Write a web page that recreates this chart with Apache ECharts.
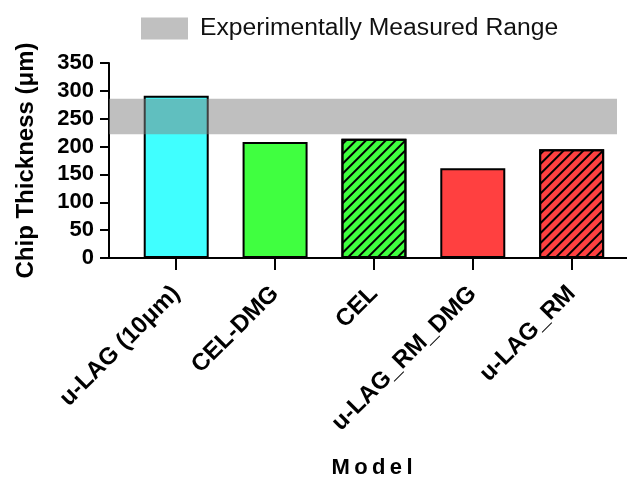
<!DOCTYPE html>
<html>
<head>
<meta charset="utf-8">
<script src="https://cdn.jsdelivr.net/npm/echarts@6/dist/echarts.min.js"></script>
<style>
  html, body { margin: 0; padding: 0; background: #fff; }
  #chart { width: 627px; height: 480px; }
</style>
</head>
<body>
<div id="chart"></div>
<script>
// data
var models = ['u-LAG (10μm)', 'CEL-DMG', 'CEL', 'u-LAG_RM_DMG', 'u-LAG_RM'];
var thickness = [291, 208, 214, 161, 195];
var barColors = ['#40FFFF', '#40FF40', '#40FF40', '#FF4040', '#FF4040'];
var hatched = [false, false, true, false, true];
var measuredRange = [222, 286];

var font = 'Liberation Sans, Arial, sans-serif';
var positions = models.map(function (m, i) { return i; });

var barData = thickness.map(function (v, i) {
  var item = {
    value: [i, v],
    itemStyle: { color: barColors[i] }
  };
  if (hatched[i]) {
    item.itemStyle.decal = {
      symbol: 'rect',
      symbolSize: 1,
      color: '#000',
      dashArrayX: [1, 0],
      dashArrayY: [2, 5],
      rotation: -Math.PI / 4
    };
  }
  return item;
});

var chart = echarts.init(document.getElementById('chart'));
chart.setOption({
  animation: false,
  backgroundColor: '#fff',
  textStyle: { fontFamily: font },
  legend: {
    left: 136,
    top: 11,
    itemWidth: 47,
    itemHeight: 22,
    icon: 'rect',
    textStyle: { fontSize: 24.7, color: '#111', fontFamily: font, padding: [0, 0, 0, 7] },
    data: [{ name: 'Experimentally Measured Range', itemStyle: { color: '#C0C0C0' } }]
  },
  grid: { left: 109, right: 0, top: 63, bottom: 220 },
  xAxis: {
    type: 'value',
    min: -0.68,
    max: 4.56,
    name: 'M\u2009o\u2009d\u2009e\u2009l',
    nameLocation: 'middle',
    nameGap: 199,
    nameTextStyle: { fontSize: 22, fontWeight: 'bold', color: '#000', padding: [0, 0, 0, 8] },
    splitLine: { show: false },
    axisLine: { lineStyle: { color: '#000', width: 2 } },
    axisTick: { customValues: positions, length: 12, lineStyle: { color: '#000', width: 2 } },
    axisLabel: {
      customValues: positions,
      rotate: 45,
      margin: 32,
      fontSize: 24,
      fontWeight: 'bold',
      color: '#000',
      formatter: function (v) { return models[Math.round(v)]; }
    }
  },
  yAxis: {
    type: 'value',
    min: 0,
    max: 350,
    interval: 50,
    name: 'Chip Thickness (μm)',
    nameLocation: 'middle',
    nameGap: 71,
    nameTextStyle: { fontSize: 24, fontWeight: 'bold', color: '#000' },
    splitLine: { show: false },
    axisLine: { show: true, onZero: false, lineStyle: { color: '#000', width: 2 } },
    axisTick: { show: true, length: 9, lineStyle: { color: '#000', width: 2 } },
    axisLabel: { margin: 15, fontSize: 22, fontWeight: 'bold', color: '#000' }
  },
  series: [
    {
      type: 'bar',
      barWidth: 65,
      itemStyle: { borderColor: '#000', borderWidth: 2 },
      data: barData,
      z: 2
    },
    {
      name: 'Experimentally Measured Range',
      type: 'custom',
      z: 10,
      silent: true,
      itemStyle: { color: '#C0C0C0' },
      data: [measuredRange],
      renderItem: function (params, api) {
        var cs = params.coordSys;
        var top = api.coord([0, api.value(1)])[1];
        var bottom = api.coord([0, api.value(0)])[1];
        return {
          type: 'rect',
          shape: { x: cs.x, y: top, width: cs.width - 10, height: bottom - top },
          style: { fill: 'rgba(128,128,128,0.5)' }
        };
      }
    }
  ]
});
</script>
</body>
</html>
